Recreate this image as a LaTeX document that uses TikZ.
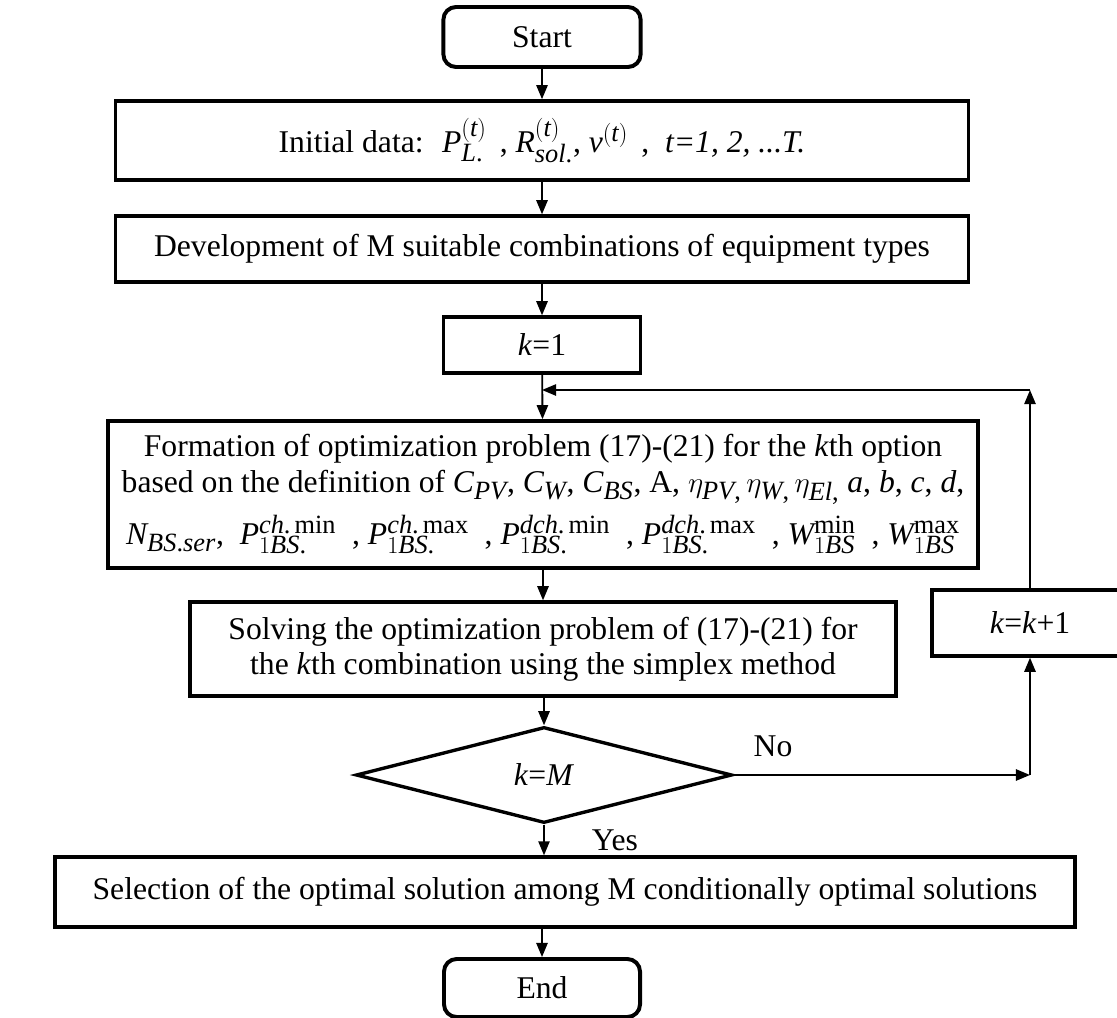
\documentclass[tikz,border=0pt]{standalone}
\usepackage{fontspec}
\setmainfont{Liberation Serif}
\usepackage[italic]{mathastext}
\usetikzlibrary{shapes.geometric,arrows.meta}

\begin{document}
\begin{tikzpicture}[x=0.025cm, y=-0.025cm,
  font=\fontsize{22.5}{25}\selectfont,
  box/.style={rectangle, draw, line width=2.4pt, align=center, inner sep=2pt},
  term/.style={box, rounded corners=9pt, line width=2.8pt},
  arr/.style={-{Triangle[length=10pt,width=8pt]}, line width=1.3pt}]
\useasboundingbox (0,0) rectangle (1117,1018);
\node[term, minimum width=4.93cm, minimum height=1.5cm] (start) at (542,37) {Start};
\node[box, minimum width=21.33cm, minimum height=1.98cm] (init) at (542,140.5) {Initial data: \ $P^{(t)}_{L.}$ \,, $R^{(t)}_{sol.}$, $v^{(t)}$ \,, \ \textit{t=1, 2, ...T.}};
\node[box, minimum width=21.33cm, minimum height=1.65cm] (dev) at (542,249) {Development of M suitable combinations of equipment types};
\node[box, minimum width=4.93cm, minimum height=1.4cm] (k1) at (542,345) {\textit{k}=1};
\node[box, minimum width=21.75cm, minimum height=3.68cm] (form) at (543,494.5) {Formation of optimization problem (17)-(21) for the \textit{k}th option\\
  based on the definition of $C_{PV}$, $C_{W}$, $C_{BS}$, A, $\eta_{PV,}\,\eta_{W,}\,\eta_{El,}$ $a$, $b$, $c$, $d$,\\[7pt]
  $N_{BS.ser}$, \ $P^{ch.\,\mathrm{min}}_{1BS.}$ \ , $P^{ch.\,\mathrm{max}}_{1BS.}$ \ , $P^{dch.\,\mathrm{min}}_{1BS.}$ \ , $P^{dch.\,\mathrm{max}}_{1BS.}$ \ , $W^{\mathrm{min}}_{1BS}$ \ , $W^{\mathrm{max}}_{1BS}$};
\node[box, minimum width=17.65cm, minimum height=2.35cm] (solve) at (543,649) {Solving the optimization problem of (17)-(21) for\\ the \textit{k}th combination using the simplex method};
\node[box, minimum width=4.9cm, minimum height=1.65cm] (kinc) at (1030,623) {\textit{k}=\textit{k}+1};
\node[diamond, draw, line width=2.4pt, inner sep=0pt, minimum width=9.4cm, minimum height=2.4cm] (dec) at (544,775) {\textit{k}=\textit{M}};
\node[box, minimum width=25.5cm, minimum height=1.75cm] (sel) at (565,892) {Selection of the optimal solution among M conditionally optimal solutions};
\node[term, minimum width=4.9cm, minimum height=1.45cm] (end) at (542,988) {End};
\coordinate (merge) at (542,390);
\coordinate (fbk) at (1030,390);
\coordinate (nocorner) at (1030,775);
\node (no) at (773,746) {No};
\node (yes) at (615,840) {Yes};
% main flow
\draw[arr] (start) -- (init);
\draw[arr] (init) -- (dev);
\draw[arr] (dev) -- (k1);
\draw[arr] (k1) -- (form);
\draw[arr] (form) -- (form.south |- solve.north);
\draw[arr] (solve.south -| dec.north) -- (dec);
\draw[arr] (dec.south) -- (dec.south |- sel.north);
\draw[arr] (sel.south -| end.north) -- (end);
% loop back
\draw[arr] (dec.east) -- (nocorner);
\draw[arr] (nocorner) -- (kinc);
\draw[arr] (kinc) -- (fbk);
\draw[arr] (fbk) -- (merge);
\end{tikzpicture}
\end{document}
